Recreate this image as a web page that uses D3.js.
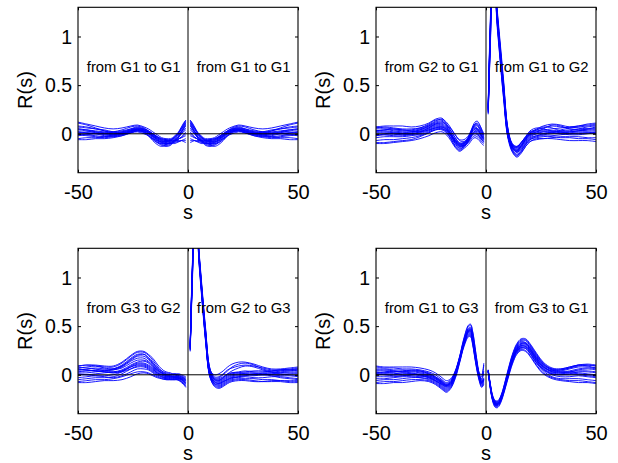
<!DOCTYPE html>
<html>
<head>
<meta charset="utf-8">
<script src="https://cdn.jsdelivr.net/npm/d3@7"></script>
<style>
  body { margin: 0; background: #fff; }
  text { font-family: "Liberation Sans", Arial, sans-serif; fill: #000; }
</style>
</head>
<body>
<div id="chart"></div>
<script>
// lags (s) at which each trace is read; the left half uses -s
const lags = [1, 2, 3, 4, 5, 6, 7, 8, 10, 12, 14, 16, 18, 20, 23, 26, 30, 34, 38, 42, 46, 50];
const xTicks = [-50, 0, 50];
const yTicks = [0, 0.5, 1];

// from G1 to G1 (same on both sides)
const g1g1 = [
  [0.14,0.10,0.06,0.02,-0.01,-0.03,-0.05,-0.06,-0.07,-0.06,-0.03,0.00,0.03,0.05,0.07,0.05,0.02,0.01,0.03,0.06,0.09,0.11],
  [0.12,0.07,0.03,-0.01,-0.04,-0.06,-0.08,-0.09,-0.10,-0.09,-0.06,-0.02,0.02,0.04,0.05,0.03,0.00,-0.01,0.00,0.02,0.04,0.05],
  [0.10,0.06,0.02,-0.02,-0.05,-0.07,-0.09,-0.11,-0.12,-0.11,-0.08,-0.04,0.00,0.02,0.03,0.01,-0.02,-0.03,-0.02,0.00,0.01,0.02],
  [0.06,0.03,0.00,-0.03,-0.05,-0.07,-0.08,-0.09,-0.10,-0.08,-0.05,-0.02,0.01,0.03,0.04,0.02,-0.01,-0.02,-0.01,0.01,0.03,0.04],
  [0.02,-0.01,-0.03,-0.05,-0.07,-0.08,-0.09,-0.10,-0.11,-0.10,-0.07,-0.03,0.01,0.04,0.06,0.04,0.01,-0.01,-0.03,-0.04,-0.04,-0.05],
  [-0.05,-0.06,-0.07,-0.08,-0.09,-0.10,-0.10,-0.10,-0.09,-0.07,-0.04,-0.01,0.02,0.03,0.04,0.02,0.00,-0.02,-0.03,-0.02,-0.01,0.00],
  [-0.09,-0.08,-0.07,-0.07,-0.07,-0.07,-0.07,-0.07,-0.06,-0.05,-0.03,0.00,0.03,0.05,0.06,0.05,0.03,0.02,0.02,0.03,0.04,0.05],
  [0.08,0.05,0.02,0.00,-0.02,-0.04,-0.05,-0.06,-0.06,-0.05,-0.03,0.00,0.03,0.06,0.08,0.07,0.04,0.02,0.01,0.00,-0.01,-0.02],
  [0.11,0.08,0.05,0.02,-0.01,-0.03,-0.05,-0.07,-0.09,-0.10,-0.09,-0.06,-0.02,0.01,0.03,0.02,0.00,0.01,0.03,0.05,0.07,0.08],
  [0.04,0.02,0.00,-0.02,-0.04,-0.05,-0.06,-0.07,-0.08,-0.08,-0.07,-0.05,-0.02,0.00,0.02,0.01,-0.01,-0.03,-0.04,-0.03,-0.02,-0.01],
  [0.13,0.09,0.05,0.01,-0.02,-0.04,-0.06,-0.08,-0.11,-0.13,-0.11,-0.07,-0.02,0.02,0.04,0.03,0.01,0.00,0.01,0.02,0.02,0.01],
  [-0.02,-0.03,-0.04,-0.05,-0.06,-0.07,-0.08,-0.08,-0.08,-0.07,-0.05,-0.02,0.01,0.03,0.05,0.04,0.02,0.01,0.00,0.00,0.01,0.02],
  [0.14,0.11,0.07,0.03,0.00,-0.02,-0.04,-0.05,-0.05,-0.04,-0.01,0.02,0.05,0.07,0.09,0.08,0.06,0.05,0.06,0.08,0.10,0.12],
  [-0.07,-0.07,-0.07,-0.08,-0.08,-0.09,-0.09,-0.10,-0.10,-0.09,-0.06,-0.03,0.00,0.02,0.03,0.01,-0.02,-0.04,-0.05,-0.05,-0.06,-0.06],
  [0.09,0.05,0.01,-0.03,-0.06,-0.08,-0.10,-0.12,-0.13,-0.12,-0.09,-0.05,-0.01,0.02,0.04,0.03,0.00,-0.01,0.00,0.01,0.00,-0.01],
  [0.00,-0.02,-0.04,-0.05,-0.06,-0.06,-0.07,-0.07,-0.07,-0.06,-0.04,-0.01,0.02,0.04,0.05,0.03,0.01,0.02,0.04,0.05,0.06,0.07]
];

// from G2 to G1 (negative lags)
const g2g1 = [
  [-0.02,0.04,0.10,0.13,0.12,0.08,0.02,-0.03,-0.08,-0.07,-0.01,0.06,0.12,0.15,0.13,0.09,0.06,0.05,0.05,0.06,0.07,0.06],
  [-0.04,0.01,0.06,0.09,0.09,0.06,0.01,-0.04,-0.10,-0.10,-0.04,0.03,0.09,0.12,0.11,0.08,0.05,0.03,0.03,0.04,0.04,0.03],
  [-0.06,-0.03,0.01,0.04,0.05,0.03,-0.01,-0.06,-0.13,-0.15,-0.10,-0.02,0.05,0.08,0.08,0.05,0.02,0.00,0.00,0.01,0.02,0.02],
  [-0.08,-0.05,-0.02,0.01,0.02,0.00,-0.04,-0.08,-0.14,-0.17,-0.13,-0.05,0.02,0.06,0.06,0.03,0.00,-0.02,-0.03,-0.03,-0.03,-0.04],
  [-0.05,-0.02,0.02,0.05,0.06,0.04,0.00,-0.04,-0.09,-0.10,-0.06,0.00,0.06,0.10,0.10,0.07,0.04,0.02,0.02,0.03,0.05,0.05],
  [-0.10,-0.08,-0.05,-0.03,-0.02,-0.03,-0.06,-0.09,-0.12,-0.12,-0.08,-0.02,0.03,0.05,0.04,0.01,-0.03,-0.06,-0.07,-0.08,-0.09,-0.09],
  [-0.03,0.01,0.05,0.08,0.08,0.05,0.00,-0.05,-0.11,-0.12,-0.07,0.00,0.07,0.11,0.10,0.06,0.02,0.00,-0.01,0.00,0.01,0.01],
  [-0.07,-0.04,0.00,0.02,0.03,0.01,-0.03,-0.07,-0.12,-0.13,-0.08,-0.01,0.05,0.09,0.09,0.06,0.03,0.01,0.00,-0.01,-0.01,-0.02],
  [-0.01,0.03,0.07,0.10,0.10,0.07,0.02,-0.02,-0.06,-0.06,-0.01,0.05,0.10,0.14,0.14,0.10,0.06,0.04,0.04,0.05,0.06,0.07],
  [-0.09,-0.06,-0.03,-0.01,0.00,-0.01,-0.04,-0.08,-0.13,-0.16,-0.12,-0.05,0.01,0.04,0.04,0.01,-0.02,-0.04,-0.05,-0.06,-0.06,-0.07],
  [-0.06,-0.02,0.03,0.06,0.07,0.05,0.00,-0.05,-0.10,-0.11,-0.06,0.01,0.08,0.13,0.12,0.08,0.04,0.02,0.01,0.02,0.03,0.03],
  [-0.04,-0.01,0.03,0.05,0.05,0.03,-0.01,-0.05,-0.11,-0.13,-0.09,-0.02,0.04,0.07,0.07,0.04,0.01,-0.01,-0.02,-0.02,-0.01,-0.01],
  [-0.12,-0.10,-0.07,-0.05,-0.04,-0.05,-0.08,-0.11,-0.15,-0.18,-0.14,-0.07,-0.01,0.02,0.01,-0.02,-0.05,-0.07,-0.08,-0.09,-0.10,-0.10],
  [0.00,0.05,0.09,0.11,0.10,0.06,0.01,-0.04,-0.09,-0.09,-0.04,0.03,0.10,0.16,0.15,0.11,0.08,0.07,0.08,0.08,0.08,0.07],
  [-0.05,-0.02,0.01,0.03,0.03,0.01,-0.02,-0.06,-0.10,-0.11,-0.07,-0.01,0.04,0.07,0.06,0.04,0.02,0.03,0.04,0.05,0.04,0.03],
  [-0.08,-0.06,-0.03,0.00,0.01,0.00,-0.03,-0.07,-0.12,-0.14,-0.10,-0.04,0.02,0.05,0.05,0.02,-0.01,-0.01,0.00,0.01,0.00,-0.02]
];

// from G1 to G2 (positive lags)
const g1g2 = [
  [0.28,1.15,1.62,1.55,1.30,1.05,0.80,0.55,0.05,-0.10,-0.13,-0.09,-0.03,0.02,0.04,0.06,0.08,0.07,0.06,0.07,0.08,0.09],
  [0.22,0.98,1.50,1.45,1.16,0.90,0.64,0.40,-0.02,-0.14,-0.18,-0.14,-0.08,-0.03,0.00,0.02,0.02,0.01,0.00,0.01,0.01,0.02],
  [0.30,1.20,1.65,1.56,1.28,1.00,0.72,0.46,-0.03,-0.18,-0.23,-0.18,-0.11,-0.06,-0.03,-0.02,-0.03,-0.04,-0.04,-0.05,-0.05,-0.06],
  [0.25,1.05,1.55,1.50,1.22,0.98,0.74,0.50,0.03,-0.12,-0.16,-0.12,-0.06,-0.01,0.02,0.05,0.09,0.08,0.05,0.04,0.05,0.06],
  [0.20,0.92,1.46,1.42,1.12,0.86,0.60,0.36,-0.04,-0.15,-0.19,-0.15,-0.09,-0.04,-0.02,-0.01,0.00,0.01,0.02,0.03,0.04,0.04],
  [0.27,1.10,1.60,1.54,1.26,1.02,0.77,0.52,0.04,-0.11,-0.14,-0.10,-0.04,0.00,0.02,0.03,0.03,0.02,0.02,0.03,0.05,0.07],
  [0.24,1.02,1.52,1.47,1.18,0.92,0.66,0.41,-0.03,-0.16,-0.21,-0.17,-0.11,-0.06,-0.04,-0.03,-0.02,-0.01,0.00,0.00,0.01,0.00],
  [0.23,1.00,1.52,1.49,1.22,0.97,0.72,0.47,0.01,-0.13,-0.17,-0.13,-0.06,0.00,0.04,0.07,0.06,0.03,0.03,0.05,0.07,0.08],
  [0.29,1.13,1.60,1.52,1.24,0.96,0.69,0.43,-0.01,-0.12,-0.15,-0.11,-0.05,-0.01,0.01,0.02,0.01,0.00,-0.01,-0.01,0.00,0.01],
  [0.26,1.06,1.54,1.47,1.16,0.88,0.61,0.37,-0.05,-0.19,-0.24,-0.20,-0.13,-0.08,-0.05,-0.05,-0.04,-0.03,-0.03,-0.03,-0.04,-0.04],
  [0.21,0.96,1.50,1.48,1.22,0.99,0.75,0.51,0.04,-0.11,-0.13,-0.09,-0.04,0.01,0.03,0.04,0.05,0.06,0.07,0.08,0.09,0.10],
  [0.25,1.08,1.57,1.51,1.22,0.95,0.69,0.44,0.00,-0.14,-0.18,-0.13,-0.07,-0.02,0.00,0.00,0.01,0.03,0.04,0.04,0.03,0.03],
  [0.27,1.12,1.61,1.53,1.25,0.98,0.72,0.47,0.02,-0.13,-0.17,-0.12,-0.05,0.01,0.05,0.08,0.10,0.09,0.07,0.08,0.10,0.11],
  [0.22,0.95,1.48,1.46,1.18,0.92,0.66,0.41,-0.02,-0.17,-0.22,-0.19,-0.13,-0.08,-0.06,-0.05,-0.05,-0.06,-0.07,-0.07,-0.07,-0.08],
  [0.26,1.07,1.56,1.50,1.20,0.93,0.67,0.42,0.00,-0.12,-0.14,-0.09,-0.03,0.03,0.06,0.05,0.03,0.04,0.06,0.06,0.05,0.05],
  [0.24,1.01,1.53,1.49,1.23,0.97,0.71,0.46,0.02,-0.14,-0.19,-0.16,-0.10,-0.05,-0.02,0.00,0.02,0.02,0.01,0.02,0.02,0.01]
];

// from G3 to G2 (negative lags)
const g3g2 = [
  [-0.03,-0.02,-0.01,0.00,0.00,0.00,0.00,0.00,0.01,0.04,0.09,0.15,0.20,0.23,0.23,0.19,0.12,0.08,0.08,0.09,0.08,0.07],
  [-0.05,-0.03,-0.02,-0.01,-0.01,-0.01,-0.01,-0.01,0.00,0.02,0.06,0.11,0.16,0.19,0.19,0.15,0.09,0.06,0.06,0.07,0.06,0.05],
  [-0.08,-0.06,-0.05,-0.04,-0.03,-0.03,-0.03,-0.03,-0.02,0.00,0.03,0.07,0.10,0.12,0.12,0.09,0.04,0.02,0.03,0.04,0.04,0.03],
  [-0.12,-0.09,-0.07,-0.05,-0.04,-0.04,-0.04,-0.04,-0.04,-0.03,-0.01,0.02,0.05,0.06,0.06,0.03,-0.01,-0.03,-0.02,-0.01,-0.02,-0.03],
  [-0.06,-0.04,-0.03,-0.02,-0.01,0.00,0.00,0.00,0.00,0.02,0.05,0.09,0.13,0.15,0.15,0.12,0.07,0.05,0.05,0.05,0.04,0.04],
  [-0.10,-0.08,-0.06,-0.05,-0.05,-0.05,-0.05,-0.05,-0.04,-0.02,0.01,0.04,0.07,0.09,0.09,0.06,0.01,-0.02,-0.03,-0.03,-0.04,-0.05],
  [-0.04,-0.03,-0.02,-0.01,0.00,0.01,0.01,0.01,0.02,0.04,0.07,0.12,0.17,0.21,0.21,0.17,0.10,0.06,0.04,0.04,0.05,0.06],
  [-0.09,-0.07,-0.05,-0.04,-0.03,-0.03,-0.03,-0.03,-0.03,-0.01,0.02,0.05,0.08,0.10,0.10,0.08,0.04,0.03,0.04,0.06,0.07,0.08],
  [-0.07,-0.05,-0.04,-0.03,-0.02,-0.02,-0.02,-0.02,-0.01,0.01,0.04,0.08,0.12,0.14,0.13,0.10,0.05,0.03,0.02,0.01,0.00,0.00],
  [-0.11,-0.09,-0.07,-0.06,-0.05,-0.05,-0.05,-0.05,-0.05,-0.04,-0.02,0.00,0.02,0.03,0.03,0.01,-0.02,-0.04,-0.05,-0.05,-0.06,-0.07],
  [-0.05,-0.04,-0.03,-0.02,-0.02,-0.02,-0.02,-0.01,0.00,0.03,0.07,0.13,0.18,0.21,0.20,0.16,0.09,0.06,0.07,0.09,0.10,0.09],
  [-0.08,-0.06,-0.04,-0.03,-0.02,-0.02,-0.02,-0.02,-0.02,0.00,0.02,0.06,0.09,0.11,0.11,0.08,0.03,0.00,-0.01,-0.01,0.00,0.01],
  [-0.02,-0.01,0.00,0.01,0.01,0.01,0.01,0.02,0.03,0.06,0.11,0.17,0.21,0.24,0.24,0.20,0.13,0.09,0.09,0.10,0.10,0.09],
  [-0.13,-0.10,-0.08,-0.06,-0.05,-0.05,-0.05,-0.05,-0.05,-0.04,-0.03,-0.01,0.01,0.02,0.01,-0.02,-0.05,-0.06,-0.06,-0.07,-0.08,-0.08],
  [-0.06,-0.05,-0.04,-0.03,-0.03,-0.03,-0.02,-0.02,-0.01,0.02,0.05,0.10,0.14,0.17,0.17,0.14,0.08,0.05,0.04,0.03,0.02,0.02],
  [-0.09,-0.07,-0.05,-0.04,-0.04,-0.04,-0.04,-0.04,-0.03,-0.02,0.00,0.03,0.06,0.08,0.08,0.06,0.03,0.02,0.03,0.04,0.05,0.06]
];

// from G2 to G3 (positive lags)
const g2g3 = [
  [0.30,1.12,1.60,1.54,1.26,0.98,0.71,0.46,0.06,-0.03,-0.03,0.00,0.04,0.08,0.11,0.12,0.10,0.06,0.04,0.05,0.06,0.07],
  [0.25,1.00,1.50,1.46,1.16,0.88,0.61,0.36,0.00,-0.06,-0.07,-0.05,-0.02,0.00,0.01,0.02,0.02,0.01,0.00,0.00,0.01,0.01],
  [0.32,1.15,1.63,1.55,1.24,0.94,0.65,0.38,-0.02,-0.10,-0.12,-0.10,-0.07,-0.05,-0.04,-0.04,-0.04,-0.05,-0.05,-0.06,-0.06,-0.06],
  [0.28,1.06,1.56,1.51,1.23,0.96,0.69,0.44,0.04,-0.04,-0.05,-0.03,0.01,0.04,0.07,0.09,0.08,0.05,0.03,0.03,0.04,0.05],
  [0.24,0.95,1.47,1.44,1.14,0.86,0.59,0.34,-0.01,-0.08,-0.09,-0.07,-0.04,-0.02,-0.01,0.00,0.00,0.00,0.01,0.02,0.03,0.03],
  [0.31,1.10,1.60,1.52,1.21,0.91,0.62,0.35,-0.03,-0.11,-0.13,-0.11,-0.08,-0.06,-0.05,-0.05,-0.06,-0.07,-0.07,-0.07,-0.08,-0.08],
  [0.27,1.04,1.54,1.50,1.23,0.96,0.70,0.45,0.05,-0.05,-0.06,-0.03,0.00,0.02,0.03,0.04,0.03,0.03,0.04,0.05,0.05,0.04],
  [0.26,1.02,1.53,1.50,1.22,0.94,0.67,0.42,0.03,-0.07,-0.08,-0.06,-0.03,-0.01,0.00,0.01,0.01,0.02,0.02,0.01,0.00,-0.01],
  [0.29,1.09,1.57,1.50,1.19,0.90,0.62,0.37,-0.01,-0.09,-0.10,-0.08,-0.05,-0.03,-0.03,-0.02,-0.03,-0.03,-0.02,-0.02,-0.03,-0.04],
  [0.30,1.08,1.58,1.54,1.27,1.00,0.73,0.48,0.06,-0.02,-0.02,0.01,0.05,0.07,0.09,0.10,0.09,0.07,0.05,0.05,0.05,0.06],
  [0.26,0.99,1.51,1.48,1.19,0.91,0.64,0.39,0.00,-0.07,-0.09,-0.07,-0.05,-0.03,-0.02,-0.01,-0.01,0.00,0.00,-0.01,-0.01,-0.02],
  [0.28,1.06,1.55,1.50,1.20,0.92,0.65,0.40,0.02,-0.05,-0.06,-0.04,-0.01,0.01,0.02,0.03,0.04,0.04,0.03,0.02,0.02,0.02],
  [0.29,1.10,1.59,1.53,1.24,0.96,0.69,0.44,0.05,0.00,0.01,0.04,0.08,0.11,0.13,0.13,0.11,0.08,0.06,0.06,0.07,0.08],
  [0.27,1.03,1.52,1.47,1.17,0.89,0.62,0.37,-0.02,-0.12,-0.14,-0.12,-0.09,-0.07,-0.06,-0.06,-0.07,-0.07,-0.06,-0.06,-0.07,-0.07],
  [0.28,1.06,1.56,1.51,1.22,0.94,0.67,0.42,0.03,-0.04,-0.04,-0.02,0.01,0.02,0.02,0.01,0.00,0.01,0.02,0.04,0.05,0.06],
  [0.26,1.01,1.52,1.49,1.20,0.92,0.65,0.40,0.01,-0.09,-0.11,-0.09,-0.06,-0.04,-0.02,-0.01,0.01,0.00,-0.01,-0.03,-0.04,-0.05]
];

// from G1 to G3 (negative lags)
const g1g3 = [
  [0.10,-0.02,0.00,0.12,0.28,0.43,0.51,0.50,0.37,0.18,0.03,-0.05,-0.08,-0.05,0.00,0.03,0.05,0.06,0.06,0.07,0.07,0.08],
  [-0.04,-0.07,-0.01,0.10,0.24,0.38,0.47,0.46,0.34,0.16,0.01,-0.08,-0.11,-0.08,-0.03,0.00,0.02,0.03,0.03,0.03,0.04,0.04],
  [-0.07,-0.10,-0.04,0.06,0.19,0.33,0.42,0.42,0.31,0.14,-0.01,-0.11,-0.15,-0.12,-0.07,-0.04,-0.03,-0.02,-0.02,-0.03,-0.04,-0.04],
  [-0.05,-0.08,-0.02,0.08,0.22,0.36,0.45,0.44,0.33,0.16,0.01,-0.09,-0.12,-0.09,-0.04,-0.01,0.00,0.01,0.01,0.00,0.00,0.00],
  [-0.09,-0.12,-0.06,0.04,0.17,0.31,0.40,0.40,0.30,0.13,-0.03,-0.13,-0.17,-0.14,-0.09,-0.06,-0.05,-0.05,-0.06,-0.07,-0.07,-0.08],
  [-0.03,-0.06,0.00,0.10,0.25,0.40,0.49,0.48,0.36,0.18,0.03,-0.06,-0.09,-0.06,-0.02,0.01,0.03,0.04,0.05,0.05,0.06,0.06],
  [-0.06,-0.09,-0.03,0.07,0.20,0.34,0.43,0.43,0.32,0.15,0.00,-0.10,-0.13,-0.10,-0.06,-0.03,-0.01,0.00,-0.01,-0.02,-0.02,-0.02],
  [-0.05,-0.08,-0.02,0.09,0.23,0.37,0.46,0.45,0.34,0.17,0.02,-0.07,-0.10,-0.07,-0.03,0.01,0.04,0.05,0.04,0.03,0.02,0.02],
  [-0.08,-0.11,-0.05,0.05,0.18,0.32,0.41,0.41,0.31,0.14,-0.02,-0.12,-0.16,-0.13,-0.08,-0.05,-0.03,-0.03,-0.04,-0.05,-0.05,-0.06],
  [0.04,-0.04,-0.01,0.10,0.25,0.39,0.48,0.47,0.35,0.17,0.02,-0.07,-0.10,-0.07,-0.02,0.02,0.04,0.04,0.03,0.04,0.05,0.05],
  [-0.06,-0.09,-0.03,0.07,0.21,0.35,0.44,0.44,0.33,0.15,0.00,-0.10,-0.14,-0.11,-0.06,-0.02,0.00,0.01,0.02,0.01,0.01,0.01],
  [-0.04,-0.07,-0.01,0.09,0.23,0.37,0.46,0.45,0.34,0.16,0.01,-0.08,-0.11,-0.09,-0.05,-0.02,-0.02,-0.01,0.00,0.02,0.02,0.03],
  [0.12,0.00,0.02,0.13,0.29,0.44,0.52,0.51,0.38,0.19,0.04,-0.04,-0.06,-0.03,0.02,0.05,0.07,0.08,0.08,0.08,0.08,0.09],
  [-0.10,-0.13,-0.07,0.03,0.16,0.30,0.39,0.39,0.29,0.12,-0.04,-0.14,-0.18,-0.15,-0.10,-0.07,-0.06,-0.07,-0.08,-0.08,-0.09,-0.09],
  [-0.05,-0.08,-0.02,0.08,0.22,0.36,0.45,0.45,0.34,0.16,0.00,-0.09,-0.12,-0.10,-0.06,-0.03,0.00,0.02,0.03,0.04,0.03,0.02],
  [0.02,-0.05,-0.01,0.09,0.24,0.38,0.47,0.46,0.34,0.16,0.01,-0.08,-0.11,-0.08,-0.04,-0.01,0.01,0.00,-0.01,-0.01,0.00,0.01]
];

// from G3 to G1 (positive lags)
const g3g1 = [
  [0.05,-0.10,-0.21,-0.26,-0.27,-0.25,-0.20,-0.13,0.04,0.20,0.31,0.36,0.36,0.31,0.21,0.12,0.06,0.05,0.07,0.10,0.09,0.07],
  [0.04,-0.12,-0.24,-0.29,-0.30,-0.28,-0.23,-0.16,0.01,0.17,0.27,0.32,0.32,0.27,0.17,0.09,0.03,0.02,0.03,0.04,0.04,0.03],
  [0.03,-0.14,-0.26,-0.31,-0.32,-0.30,-0.25,-0.18,-0.02,0.13,0.23,0.27,0.27,0.22,0.12,0.04,-0.02,-0.04,-0.04,-0.04,-0.05,-0.06],
  [0.04,-0.11,-0.23,-0.28,-0.29,-0.27,-0.22,-0.15,0.02,0.18,0.29,0.34,0.33,0.28,0.18,0.10,0.05,0.04,0.06,0.08,0.08,0.07],
  [0.04,-0.13,-0.25,-0.30,-0.31,-0.29,-0.24,-0.17,-0.01,0.14,0.24,0.28,0.28,0.23,0.13,0.06,0.01,0.00,0.00,0.00,-0.01,-0.02],
  [0.05,-0.11,-0.22,-0.27,-0.28,-0.26,-0.21,-0.14,0.03,0.19,0.30,0.35,0.35,0.30,0.20,0.11,0.05,0.03,0.03,0.05,0.06,0.05],
  [0.03,-0.13,-0.25,-0.30,-0.31,-0.29,-0.24,-0.17,0.00,0.16,0.26,0.30,0.30,0.25,0.15,0.07,0.02,0.01,0.02,0.02,0.01,0.00],
  [0.04,-0.12,-0.24,-0.29,-0.30,-0.28,-0.23,-0.16,0.01,0.16,0.26,0.31,0.31,0.26,0.16,0.08,0.04,0.05,0.07,0.09,0.10,0.09],
  [0.03,-0.14,-0.26,-0.32,-0.33,-0.31,-0.26,-0.19,-0.03,0.12,0.22,0.26,0.25,0.20,0.10,0.02,-0.03,-0.05,-0.06,-0.06,-0.07,-0.08],
  [0.05,-0.11,-0.23,-0.28,-0.29,-0.27,-0.22,-0.15,0.02,0.17,0.28,0.33,0.33,0.29,0.19,0.11,0.06,0.06,0.08,0.10,0.11,0.10],
  [0.04,-0.12,-0.24,-0.29,-0.30,-0.28,-0.23,-0.16,0.00,0.15,0.25,0.29,0.29,0.24,0.14,0.06,0.01,0.00,0.01,0.03,0.03,0.02],
  [0.04,-0.13,-0.25,-0.30,-0.31,-0.29,-0.24,-0.17,0.00,0.15,0.25,0.30,0.29,0.25,0.15,0.08,0.03,0.02,0.02,0.01,0.00,-0.01],
  [0.05,-0.10,-0.22,-0.27,-0.28,-0.26,-0.21,-0.13,0.05,0.21,0.32,0.37,0.37,0.32,0.22,0.13,0.07,0.06,0.08,0.10,0.10,0.09],
  [0.03,-0.15,-0.27,-0.33,-0.34,-0.32,-0.27,-0.20,-0.04,0.11,0.21,0.25,0.24,0.19,0.09,0.01,-0.04,-0.06,-0.07,-0.08,-0.08,-0.09],
  [0.04,-0.12,-0.24,-0.29,-0.30,-0.28,-0.23,-0.16,0.01,0.16,0.27,0.32,0.32,0.27,0.17,0.09,0.04,0.03,0.04,0.06,0.07,0.06],
  [0.04,-0.13,-0.25,-0.31,-0.32,-0.30,-0.25,-0.18,-0.01,0.14,0.24,0.28,0.27,0.22,0.12,0.05,0.00,-0.02,-0.02,-0.01,-0.02,-0.03]
];

const panels = [
  { left: g1g1, right: g1g1, leftLabel: "from G1 to G1", rightLabel: "from G1 to G1" },
  { left: g2g1, right: g1g2, leftLabel: "from G2 to G1", rightLabel: "from G1 to G2" },
  { left: g3g2, right: g2g3, leftLabel: "from G3 to G2", rightLabel: "from G2 to G3" },
  { left: g1g3, right: g3g1, leftLabel: "from G1 to G3", rightLabel: "from G3 to G1" }
];

// layout (MATLAB 2x2 subplot)
const W = 618, H = 463;
const boxW = 220, boxH = 165.4;
const origins = [[78, 7.3], [376, 7.3], [78, 248.3], [376, 248.3]];

const svg = d3.select("#chart").append("svg")
  .attr("width", W)
  .attr("height", H);

const x = d3.scaleLinear().domain([-50, 50]).range([0, boxW]);
const y = d3.scaleLinear().domain([-0.4, 1.3]).range([boxH, 0]);

const line = d3.line()
  .x(d => x(d[0]))
  .y(d => y(d[1]))
  .curve(d3.curveCatmullRom.alpha(0.5));

panels.forEach((p, k) => {
  const [ox, oy] = origins[k];
  const g = svg.append("g").attr("transform", `translate(${ox},${oy})`);

  g.append("clipPath").attr("id", "clip" + k)
    .append("rect").attr("width", boxW).attr("height", boxH);

  const plot = g.append("g").attr("clip-path", `url(#clip${k})`);

  // traces, negative lags on the left, positive on the right
  const leftSeries = p.left.map(t => lags.map((l, i) => [-l, t[i]]));
  const rightSeries = p.right.map(t => lags.map((l, i) => [l, t[i]]));

  plot.selectAll("path.trace")
    .data(leftSeries.concat(rightSeries))
    .join("path")
      .attr("class", "trace")
      .attr("d", line)
      .attr("fill", "none")
      .attr("stroke", "#0000ff")
      .attr("stroke-width", 0.9);

  // zero lines
  plot.append("line")
    .attr("x1", 0).attr("x2", boxW)
    .attr("y1", y(0)).attr("y2", y(0))
    .attr("stroke", "#000").attr("stroke-width", 1);
  plot.append("line")
    .attr("x1", x(0)).attr("x2", x(0))
    .attr("y1", 0).attr("y2", boxH)
    .attr("stroke", "#000").attr("stroke-width", 1);

  // labels inside the box
  g.append("text")
    .attr("x", x(-46)).attr("y", y(0.635))
    .style("font-size", "14.8px")
    .text(p.leftLabel);
  g.append("text")
    .attr("x", x(4)).attr("y", y(0.635))
    .style("font-size", "14.8px")
    .text(p.rightLabel);

  // axes with inward ticks on all four sides
  const xb = g.append("g").attr("transform", `translate(0,${boxH})`)
    .call(d3.axisBottom(x).tickValues(xTicks).tickSize(-3).tickSizeOuter(0).tickFormat(d => d));
  xb.selectAll("text")
    .attr("y", 26).attr("dy", null)
    .style("font-size", "20px");

  const yl = g.append("g")
    .call(d3.axisLeft(y).tickValues(yTicks).tickSize(-3).tickSizeOuter(0).tickFormat(d => d));
  yl.selectAll("text")
    .attr("x", -6).attr("dy", "0.35em")
    .style("font-size", "19.5px");

  g.append("g")
    .call(d3.axisTop(x).tickValues(xTicks).tickSize(-3).tickSizeOuter(0).tickFormat(""));
  g.append("g").attr("transform", `translate(${boxW},0)`)
    .call(d3.axisRight(y).tickValues(yTicks).tickSize(-3).tickSizeOuter(0).tickFormat(""));

  g.selectAll(".domain").remove();
  g.selectAll(".tick line").attr("stroke", "#000");
  g.selectAll(".tick text").attr("font-family", null).attr("font-size", null).attr("fill", "#000");

  // box
  g.append("rect")
    .attr("width", boxW).attr("height", boxH)
    .attr("fill", "none")
    .attr("stroke", "#000")
    .attr("stroke-width", 1.1);

  // axis titles
  g.append("text")
    .attr("x", boxW / 2).attr("y", boxH + 46)
    .attr("text-anchor", "middle")
    .style("font-size", "20px")
    .text("s");
  g.append("text")
    .attr("transform", `translate(-46,${boxH / 2}) rotate(-90)`)
    .attr("text-anchor", "middle")
    .style("font-size", "20px")
    .text("R(s)");
});
</script>
</body>
</html>
